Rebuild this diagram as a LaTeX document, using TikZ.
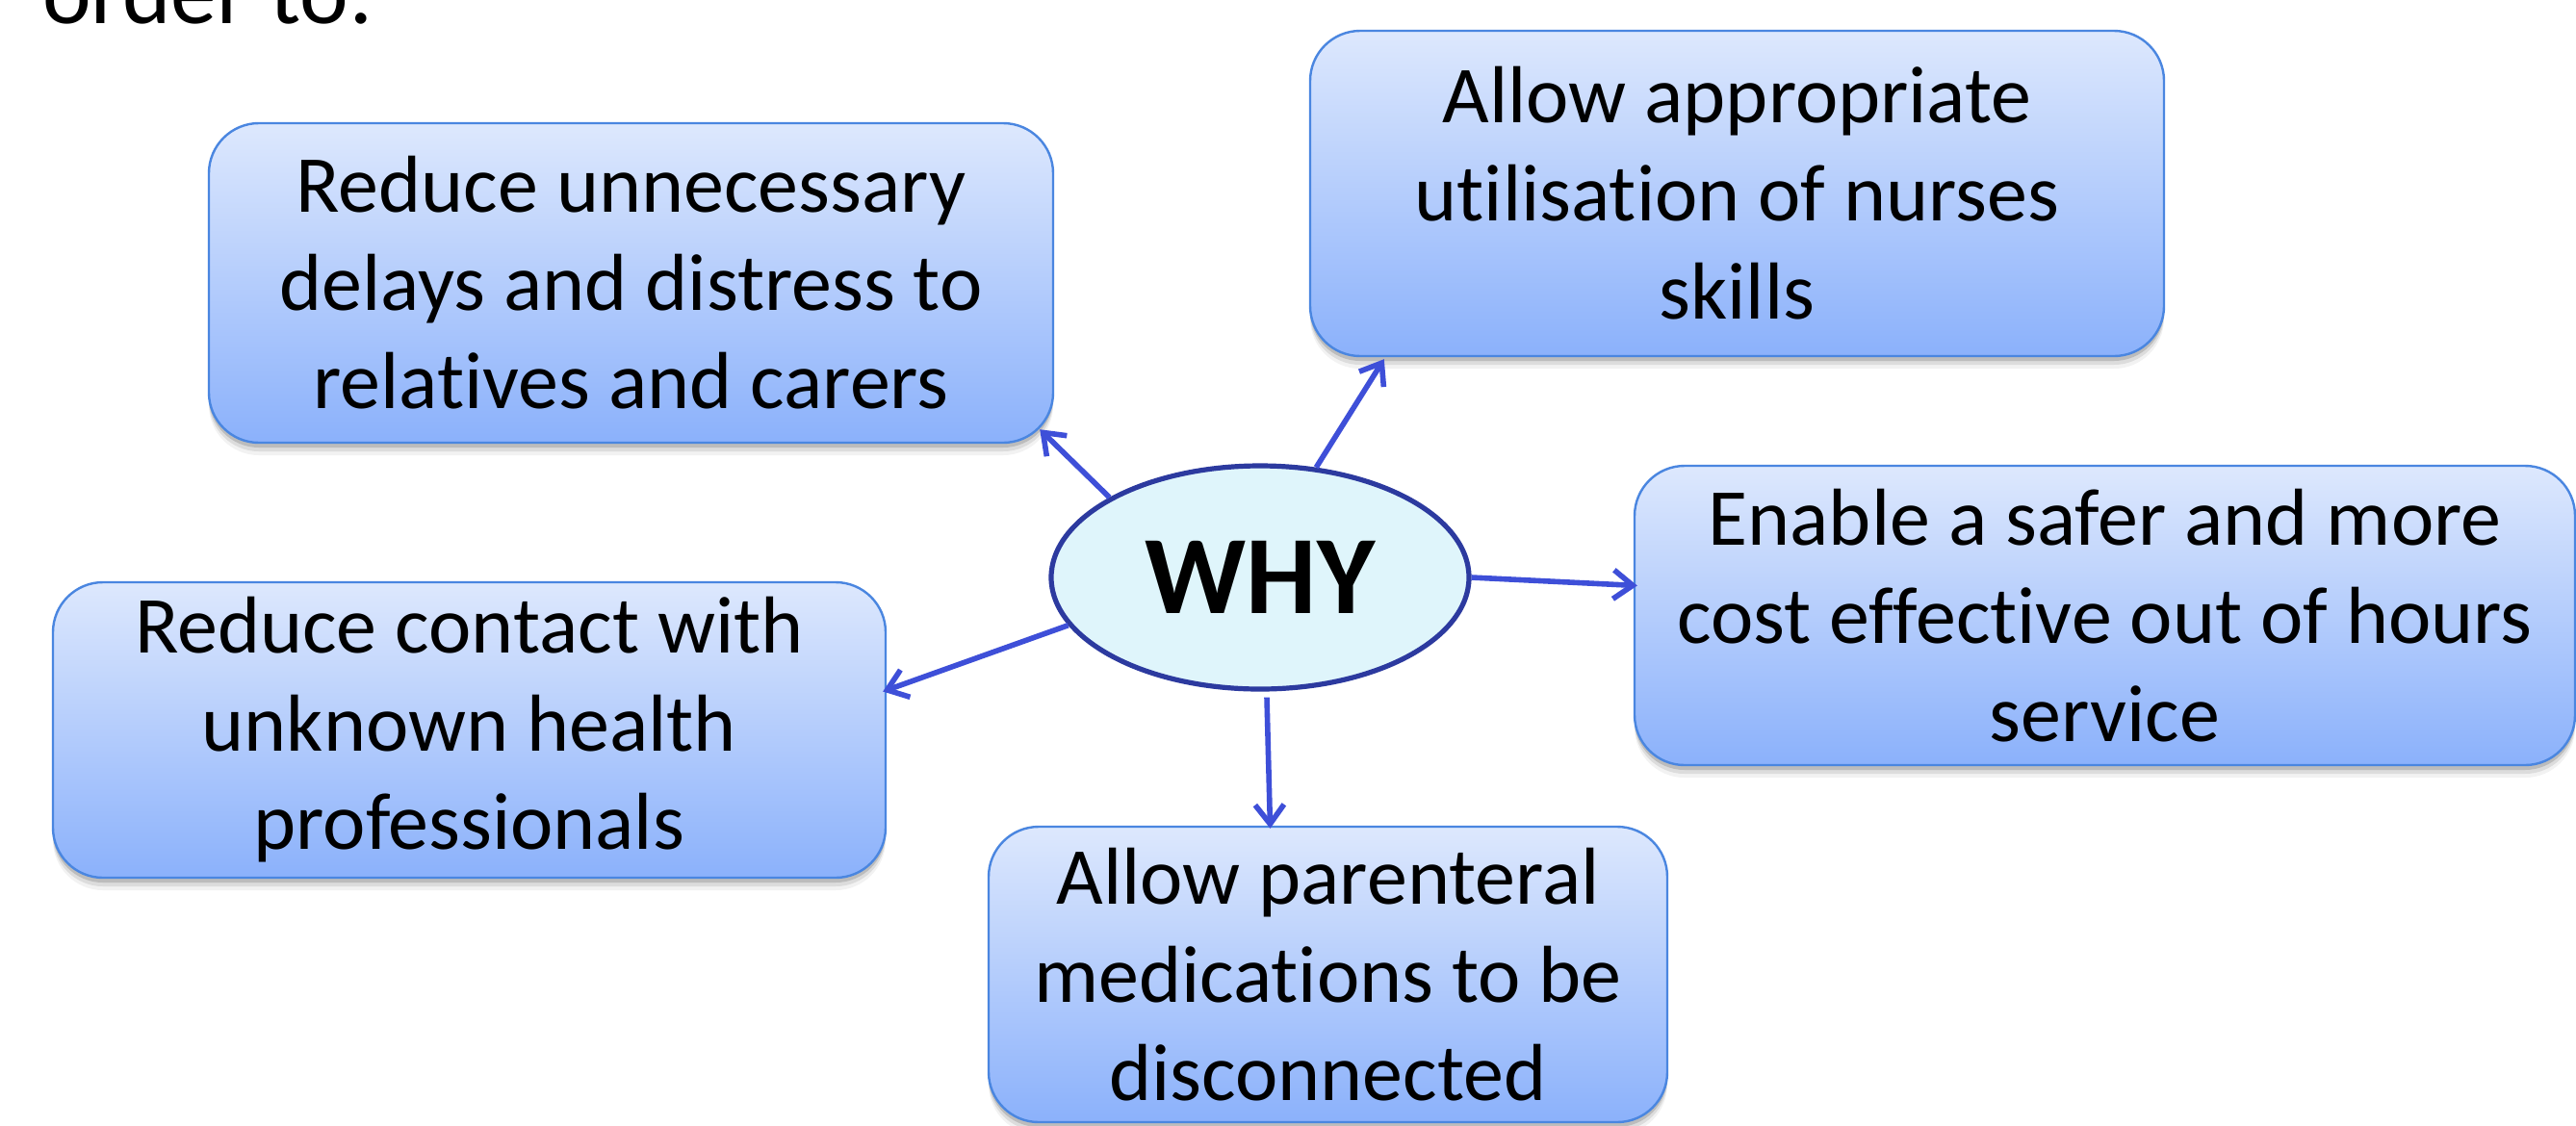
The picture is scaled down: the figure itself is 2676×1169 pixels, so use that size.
\documentclass[tikz,border=0pt]{standalone}
\usepackage{fontspec}
\setmainfont{Carlito}[Ligatures={NoCommon}]
\usetikzlibrary{arrows.meta,shapes.geometric,shadows}
\definecolor{boxtop}{HTML}{DDE8FD}
\definecolor{boxbot}{HTML}{8BB1FB}
\definecolor{boxline}{HTML}{4A86E0}
\definecolor{ellfill}{HTML}{DFF5FB}
\definecolor{elline}{HTML}{2C3A9F}
\definecolor{arrowc}{HTML}{3E4FD8}
\begin{document}
\begin{tikzpicture}[x=0.5pt,y=-0.5pt,
  box/.style={rectangle, rounded corners=26pt, draw=boxline, line width=1.2pt,
    top color=boxtop, bottom color=boxbot, align=center, inner sep=0pt,
    font=\fontsize{42}{51}\selectfont,
    drop shadow={shadow xshift=0pt, shadow yshift=-2.5pt, opacity=0.14, fill=black},
    drop shadow={shadow xshift=0pt, shadow yshift=-4.5pt, opacity=0.09, fill=black},
    drop shadow={shadow xshift=0pt, shadow yshift=-6.5pt, opacity=0.05, fill=black}},
  whynode/.style={ellipse, draw=elline, line width=2.6pt, fill=ellfill,
    minimum width=217pt, minimum height=116pt, inner sep=0pt,
    font=\fontsize{58}{60}\selectfont\bfseries},
  arr/.style={draw=arrowc, line width=2.8pt,
    -{Straight Barb[length=10pt,width=15pt]}},
  toptext/.style={anchor=base west, inner sep=0pt, font=\fontsize{48}{50}\selectfont}]
\useasboundingbox (0,0) rectangle (2676,1169);
\fill[white] (0,0) rectangle (2676,1169);

\node[toptext] (ord) at (44,24) {order to:};

\node[box, minimum width=438.5pt, minimum height=166pt] (A) at (655.5,294)
  {Reduce unnecessary\\delays and distress to\\relatives and carers};
\node[box, minimum width=443.5pt, minimum height=169pt] (B) at (1804.5,201)
  {Allow appropriate\\utilisation of nurses\\skills};
\node[box, minimum width=488.5pt, minimum height=155.5pt] (C) at (2186.5,639.5)
  {Enable a safer and more\\cost effective out of hours\\service};
\node[box, minimum width=432.5pt, minimum height=153.5pt] (D) at (487.5,758.5)
  {Reduce contact with\\unknown health\\professionals};
\node[box, minimum width=352.5pt, minimum height=153.5pt] (E) at (1379.5,1012.5)
  {Allow parenteral\\medications to be\\disconnected};

\node[whynode] (why) at (1309,600) {WHY};

\draw[arr] (why.152) -- ([shift={(-15,-15)}]A.south east);
\draw[arr] (why.63) -- ([shift={(78,2)}]B.south west);
\draw[arr] (why.east) -- ([shift={(4,-31)}]C.west);
\draw[arr] (why.194) -- ([shift={(-4,-40)}]D.east);
\draw[arr] ([shift={(7,6)}]why.south) -- ([shift={(-60,3)}]E.north);
\end{tikzpicture}
\end{document}
